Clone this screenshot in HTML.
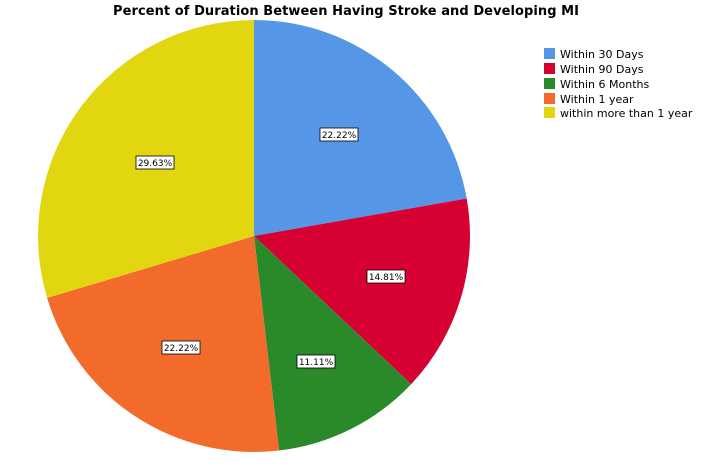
<!DOCTYPE html>
<html><head><style>
body{margin:0;background:#fff;width:707px;height:468px;overflow:hidden;font-family:"DejaVu Sans","Liberation Sans",sans-serif}
</style></head><body>
<svg width="707" height="468" xmlns="http://www.w3.org/2000/svg">
<text x="346" y="15" text-anchor="middle" font-size="13" font-weight="bold" font-family="DejaVu Sans, Liberation Sans, sans-serif" textLength="466">Percent of Duration Between Having Stroke and Developing MI</text>
<g stroke="none">
<path d="M254,236 L254,20 A216,216 0 0 1 466.7,198.5 Z" fill="#5597e6"/>
<path d="M254,236 L466.7,198.5 A216,216 0 0 1 411.1,384.2 Z" fill="#d60032"/>
<path d="M254,236 L411.1,384.2 A216,216 0 0 1 279.1,450.5 Z" fill="#2a8a2a"/>
<path d="M254,236 L279.1,450.5 A216,216 0 0 1 47.1,297.9 Z" fill="#f26b2b"/>
<path d="M254,236 L47.1,297.9 A216,216 0 0 1 254,20 Z" fill="#e2d610"/>
</g>
<g font-size="9" font-family="DejaVu Sans, Liberation Sans, sans-serif" text-anchor="middle">
<rect x="320" y="128" width="38" height="13" fill="#fff" stroke="#000" stroke-width="0.8"/><text x="339" y="138">22.22%</text>
<rect x="367" y="270" width="38" height="13" fill="#fff" stroke="#000" stroke-width="0.8"/><text x="386" y="280">14.81%</text>
<rect x="297" y="355" width="38" height="13" fill="#fff" stroke="#000" stroke-width="0.8"/><text x="316" y="365">11.11%</text>
<rect x="162" y="341" width="38" height="13" fill="#fff" stroke="#000" stroke-width="0.8"/><text x="181" y="351">22.22%</text>
<rect x="136" y="156" width="38" height="13" fill="#fff" stroke="#000" stroke-width="0.8"/><text x="155" y="166">29.63%</text>
</g>
<g font-size="11" font-family="DejaVu Sans, Liberation Sans, sans-serif">
<rect x="544" y="48" width="11" height="11" fill="#5597e6"/><text x="560" y="58">Within 30 Days</text>
<rect x="544" y="63" width="11" height="11" fill="#d60032"/><text x="560" y="73">Within 90 Days</text>
<rect x="544" y="78" width="11" height="11" fill="#2a8a2a"/><text x="560" y="88">Within 6 Months</text>
<rect x="544" y="93" width="11" height="11" fill="#f26b2b"/><text x="560" y="103">Within 1 year</text>
<rect x="544" y="107" width="11" height="11" fill="#e2d610"/><text x="560" y="117">within more than 1 year</text>
</g>
</svg>
</body></html>
